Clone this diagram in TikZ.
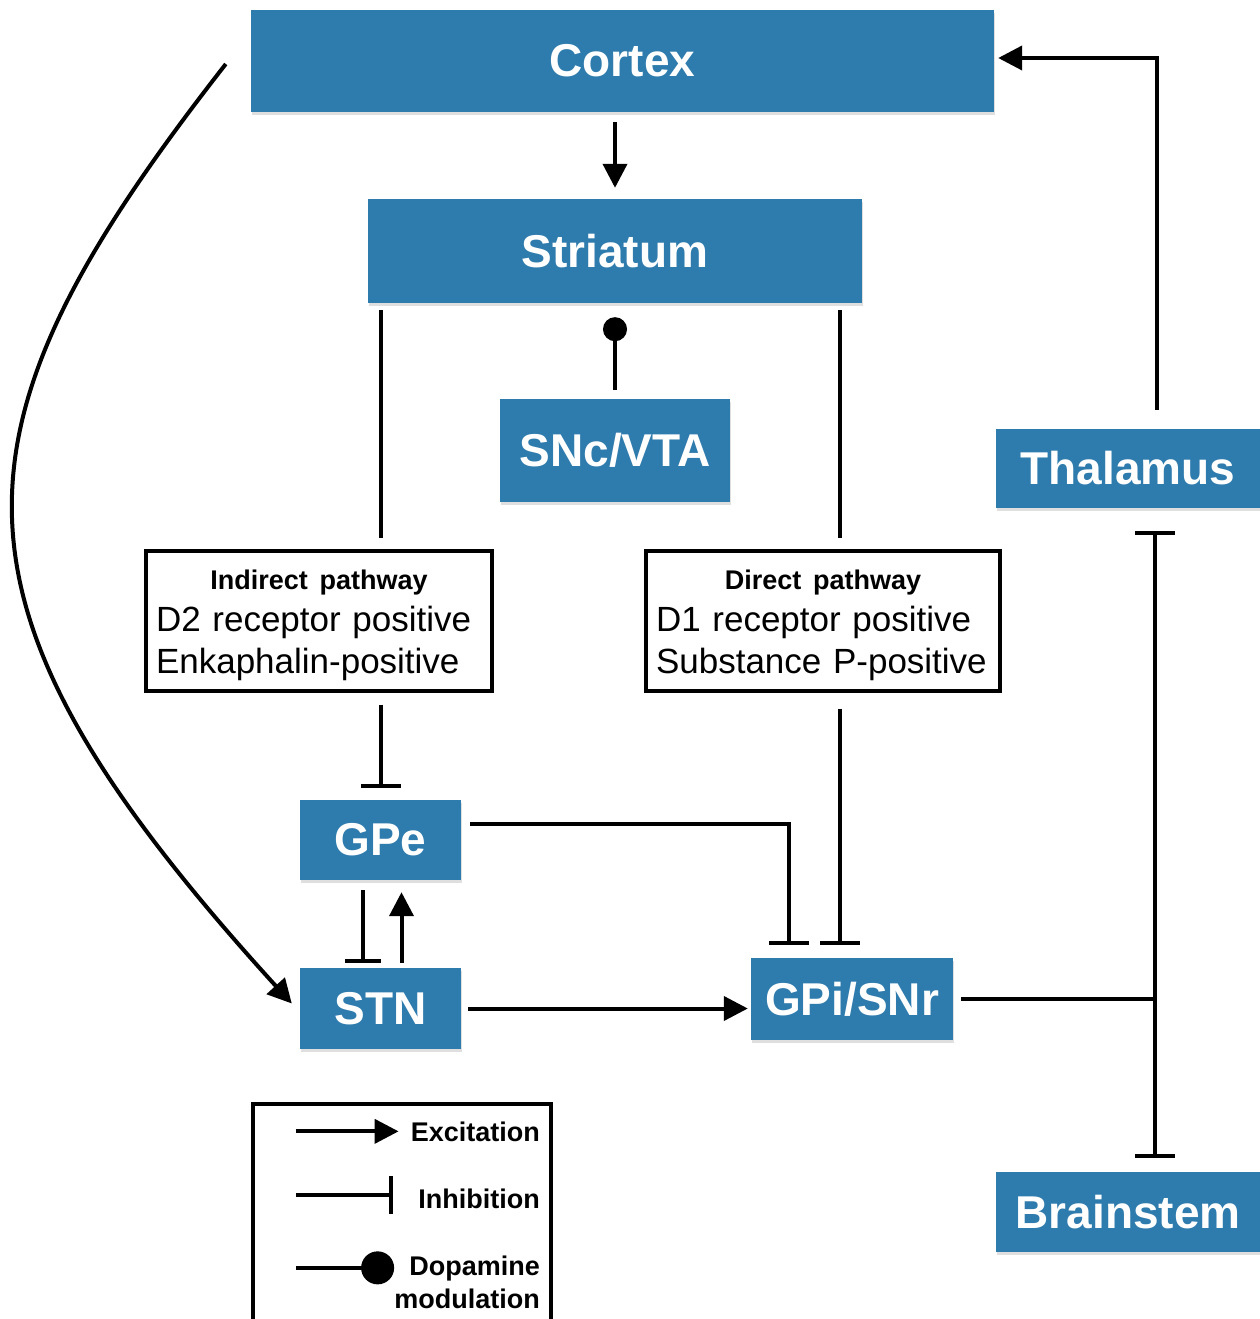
\documentclass[tikz,border=0pt]{standalone}
\usepackage{fontspec}
\setmainfont{Liberation Sans}
\usetikzlibrary{arrows.meta,positioning,shadows}
\definecolor{regionblue}{RGB}{46,123,173}
\tikzstyle{region} = [fill=regionblue, text=white, inner sep=0pt,
    font=\fontsize{46}{50}\selectfont\bfseries,
    drop shadow={shadow xshift=1pt, shadow yshift=-3pt, opacity=0.25}]
\tikzstyle{pathway} = [draw, line width=4pt, inner sep=10pt, align=left,
    font=\fontsize{35}{42}\selectfont, minimum height=138pt]
\tikzstyle{excite} = [line width=4pt, -{Triangle[length=24pt,width=24pt]}]
\tikzstyle{inhibit} = [line width=4pt, -{Bar[width=40pt]}]
\tikzstyle{dopa} = [line width=4pt, -{Circle[length=24pt]}]
\tikzstyle{link} = [line width=4pt]
\tikzstyle{legtext} = [inner sep=0pt, font=\fontsize{27}{33}\selectfont\bfseries, align=right]
\newcommand{\pathtitle}[1]{\makebox[\hsize]{\rule{0pt}{28pt}\fontsize{27}{42}\selectfont\bfseries #1}}

\begin{document}
\begin{tikzpicture}[x=1pt, y=-1pt]
  \useasboundingbox (0,0) rectangle (1260,1319);
  % Place nodes
  \node [region, minimum width=743pt, minimum height=102pt] (cortex) at (622.5,61) {Cortex};
  \node [region, minimum width=494pt, minimum height=104pt, below of=cortex, node distance=190pt, xshift=-7.5pt] (striatum) {Striatum};
  \node [region, minimum width=230pt, minimum height=103pt, below of=striatum, node distance=199pt] (snc) {SNc/VTA};
  \node [region, minimum width=264pt, minimum height=79pt] (thalamus) at (1128,468.5) {Thalamus};
  \node [region, minimum width=264pt, minimum height=80pt, below of=thalamus, node distance=743.5pt] (brainstem) {Brainstem};
  \node [pathway, text width=326pt] (indirect) at (319,621) {\pathtitle{Indirect pathway}\\D2 receptor positive\\Enkaphalin-positive};
  \node [pathway, text width=334pt, right of=indirect, node distance=504pt] (direct) {\pathtitle{Direct pathway}\\D1 receptor positive\\Substance P-positive};
  \node [region, minimum width=161pt, minimum height=80pt] (gpe) at (380.5,840) {GPe};
  \node [region, minimum width=161pt, minimum height=81pt, below of=gpe, node distance=168.5pt] (stn) {STN};
  \node [region, minimum width=202pt, minimum height=82pt] (gpi) at (852,999) {GPi/SNr};
  \coordinate (dline) at ([xshift=17pt]direct.center);
  \coordinate (tline) at ([xshift=27pt]thalamus.south);
  \coordinate (junc) at (tline |- gpi.east);
  % Connections
  \draw [excite, shorten <=10pt, shorten >=11pt] (striatum.north |- cortex.south) -- (striatum.north);
  \draw [dopa, shorten <=8pt, shorten >=14pt] (snc.north) -- (striatum.south);
  \draw [link, shorten <=7pt, shorten >=11pt] (gpe.north |- striatum.south) -- (gpe.north |- indirect.north);
  \draw [link, shorten <=7pt, shorten >=11pt] (dline |- striatum.south) -- (dline |- direct.north);
  \draw [inhibit, shorten <=12pt, shorten >=12pt] (gpe.north |- indirect.south) -- (gpe.north);
  \draw [inhibit, shorten <=16pt, shorten >=13pt] (dline |- direct.south) -- (dline |- gpi.north);
  \draw [inhibit, shorten <=9pt, shorten >=13pt] ([yshift=16pt]gpe.east) -| ([xshift=-63pt]gpi.north);
  \draw [inhibit, -{Bar[width=36pt]}, shorten <=10pt, shorten >=5pt] ([xshift=-18pt]gpe.south) -- ([xshift=-18pt]stn.north);
  \draw [excite, shorten <=5pt, shorten >=12pt] ([xshift=21pt]stn.north) -- ([xshift=21pt]gpe.south);
  \draw [excite, shorten <=7pt, shorten >=3pt] (stn.east) -- (stn.east -| gpi.west);
  \draw [link, shorten <=8pt] (gpi.east) -- (junc);
  \draw [inhibit, shorten >=23pt] (junc) -- (tline);
  \draw [inhibit, shorten >=14pt] (junc) -- (tline |- brainstem.north);
  \draw [excite, shorten <=19pt, shorten >=4pt] ([xshift=29pt]thalamus.north) |- ([yshift=3pt]cortex.east);
  \draw [excite] ([xshift=-25pt,yshift=-3pt]cortex.west) .. controls +(-286,366) and +(-367,-403) .. ([xshift=-8pt,yshift=5pt]stn.west);
  % Legend
  \draw [line width=4pt] (253,1319) -- (253,1104) -- (551,1104) -- (551,1319);
  \node [legtext, anchor=base east] (lexc) at (540,1141) {Excitation};
  \node [legtext, anchor=base east] (linh) at (540,1208) {Inhibition};
  \node [legtext, anchor=base east] (ldop) at (540,1308) {Dopamine\\modulation};
  \draw [excite, shorten >=12pt] ([xshift=-115pt]lexc.west) -- (lexc.west);
  \draw [inhibit, -{Bar[width=38pt]}, shorten >=25pt] ([xshift=-122pt,yshift=3pt]linh.west) -- ([yshift=3pt]linh.west);
  \draw [dopa, -{Circle[length=33pt]}] ([xshift=-98pt,yshift=14pt]ldop.west) -- ([yshift=14pt]ldop.west);
\end{tikzpicture}
\end{document}
